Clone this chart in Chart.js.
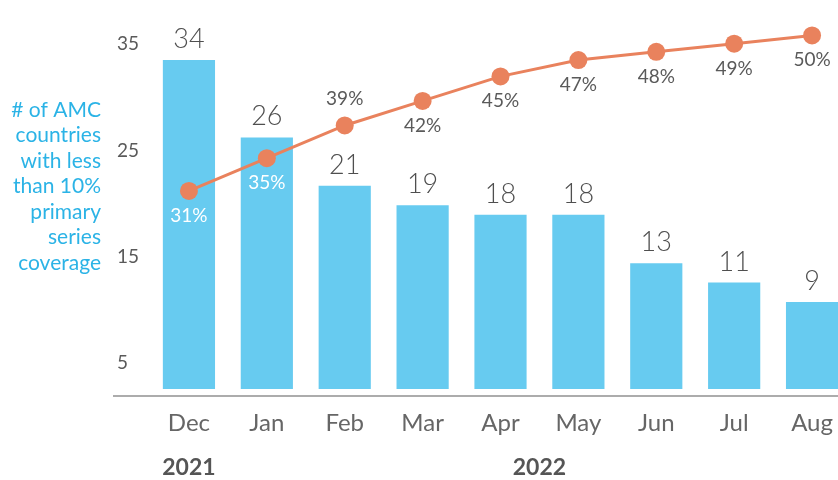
<!DOCTYPE html>
<html>
<head>
<meta charset="utf-8">
<script src="https://cdn.jsdelivr.net/npm/chart.js@4.4.0/dist/chart.umd.min.js"></script>
<style>
  html, body { margin: 0; padding: 0; background: #fff; overflow: hidden; }
</style>
</head>
<body>
<canvas id="amcChart" width="860" height="480"></canvas>
<script>
const months = ["Dec", "Jan", "Feb", "Mar", "Apr", "May", "Jun", "Jul", "Aug"];
const countries = [34, 26, 21, 19, 18, 18, 13, 11, 9];   // bars
const coverage = [31, 35, 39, 42, 45, 47, 48, 49, 50];   // line, %
const tickValues = [5, 15, 25, 35];
const years = [
  { label: "2021", first: 0, last: 0 },
  { label: "2022", first: 1, last: 8 }
];
const titleLines = ["# of AMC", "countries", "with less", "than 10%", "primary", "series", "coverage"];

const FONT = "Lato, 'Open Sans', sans-serif";
const GREY = "#5a5a5a";
const pctAbove = [false, false, true, false, false, false, false, false, false];

// draws value labels, year labels, side title and the base line
const annotate = {
  id: "annotate",
  afterDraw(chart) {
    const ctx = chart.ctx;
    const area = chart.chartArea;
    const xs = chart.scales.x;
    const bars = chart.getDatasetMeta(0).data;
    const pts = chart.getDatasetMeta(1).data;
    ctx.save();

    // axis line
    ctx.strokeStyle = "#acacac";
    ctx.lineWidth = 2;
    ctx.beginPath();
    ctx.moveTo(113, area.bottom);
    ctx.lineTo(chart.width, area.bottom);
    ctx.stroke();

    ctx.textAlign = "center";
    ctx.textBaseline = "alphabetic";

    // bar values
    ctx.font = "300 27px " + FONT;
    ctx.fillStyle = "#4f4f4f";
    bars.forEach((b, i) => ctx.fillText(String(countries[i]), b.x, b.y - 12));

    // percentages
    ctx.font = "19px " + FONT;
    pts.forEach((p, i) => {
      const inside = p.y > bars[i].y;
      ctx.fillStyle = inside ? "#ffffff" : GREY;
      const y = pctAbove[i] ? p.y - 20 : p.y + 31;
      ctx.fillText(coverage[i] + "%", p.x, y);
    });

    // years
    ctx.font = "bold 23px " + FONT;
    ctx.fillStyle = "#555";
    ctx.textBaseline = "middle";
    years.forEach(yr => {
      let sum = 0;
      for (let i = yr.first; i <= yr.last; i++) sum += xs.getPixelForValue(i);
      ctx.fillText(yr.label, sum / (yr.last - yr.first + 1), 468);
    });

    // side title
    ctx.font = "21px " + FONT;
    ctx.fillStyle = "#2bb3e6";
    ctx.textAlign = "right";
    titleLines.forEach((t, i) => ctx.fillText(t, 101, 110 + i * 25.5));

    ctx.restore();
  }
};

new Chart("amcChart", {
  data: {
    labels: months,
    datasets: [
      {
        type: "bar",
        data: countries,
        backgroundColor: "#67cbf0",
        barPercentage: 0.67,
        categoryPercentage: 1,
        yAxisID: "y",
        order: 2
      },
      {
        type: "line",
        data: coverage,
        borderColor: "#e9825d",
        backgroundColor: "#e9825d",
        borderWidth: 3,
        pointRadius: 9,
        pointBorderWidth: 0,
        yAxisID: "y2",
        clip: false,
        order: 1
      }
    ]
  },
  options: {
    responsive: false,
    animation: false,
    layout: { padding: { left: 117, top: 39, right: 0, bottom: 0 } },
    plugins: { legend: { display: false }, tooltip: { enabled: false } },
    scales: {
      x: {
        grid: { display: false },
        border: { display: false },
        ticks: { color: "#666", font: { family: FONT, size: 24 }, padding: 5 },
        afterFit(axis) { axis.height = 84; }
      },
      y: { display: false, min: -0.72, max: 36.17 },
      y2: { display: false, min: 5.93, max: 49.57 },
      yt: {
        position: "left",
        min: 1.91,
        max: 35.5,
        grid: { display: false },
        border: { display: false },
        afterBuildTicks(axis) { axis.ticks = tickValues.map(v => ({ value: v })); },
        afterFit(axis) { axis.width = 33; },
        ticks: {
          color: GREY,
          crossAlign: "far",
          font: { family: FONT, size: 19 },
          callback: v => String(v)
        }
      }
    }
  },
  plugins: [annotate]
});
</script>
</body>
</html>
